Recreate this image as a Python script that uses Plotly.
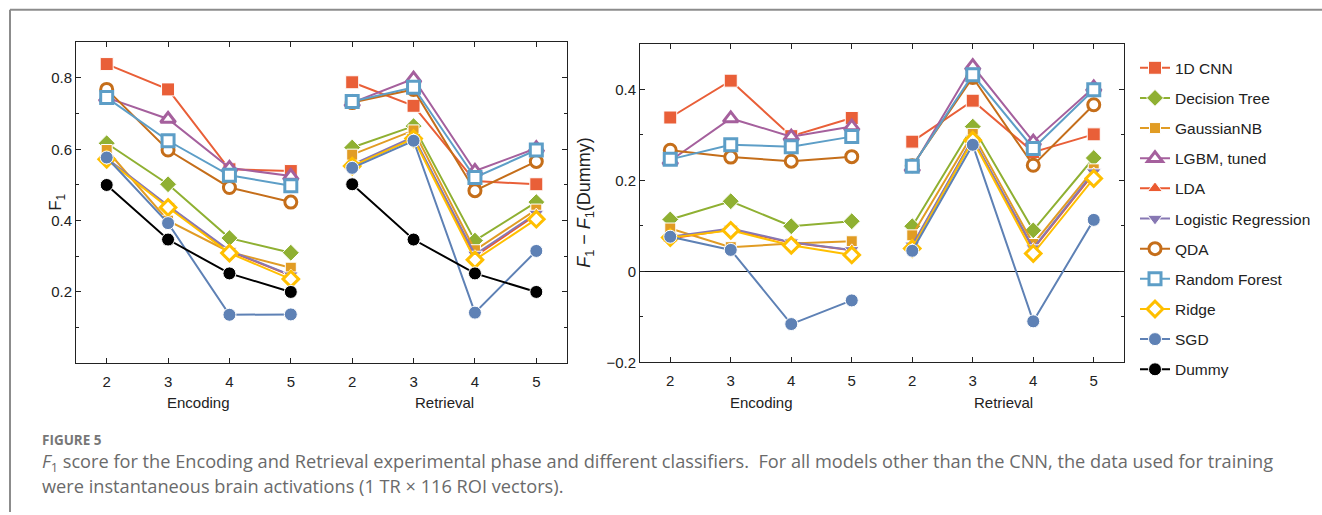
import plotly.graph_objects as go

# ---------------- data ----------------
phases = ["Encoding", "Retrieval"]
n_classes = [2, 3, 4, 5]
tick_labels = [str(n) for p in phases for n in n_classes]

models = ["1D CNN", "Decision Tree", "GaussianNB", "LGBM, tuned", "LDA",
          "Logistic Regression", "QDA", "Random Forest", "Ridge", "SGD", "Dummy"]

# F1 score (left panel): Encoding 2..5, Retrieval 2..5
f1_cnn = [0.839, 0.768, 0.544, 0.539, 0.788, 0.722, 0.511, 0.502]
f1_tree = [0.617, 0.502, 0.351, 0.310, 0.605, 0.665, 0.344, 0.452]
f1_gnb = [0.598, 0.400, 0.312, 0.268, 0.585, 0.653, 0.317, 0.431]
f1_lgbm = [0.745, 0.685, 0.548, 0.525, 0.731, 0.798, 0.539, 0.603]
f1_lda = [0.572, 0.440, 0.314, 0.246, 0.553, 0.632, 0.300, 0.417]
f1_logreg = [0.575, 0.442, 0.316, 0.247, 0.557, 0.635, 0.305, 0.420]
f1_qda = [0.768, 0.598, 0.493, 0.452, 0.731, 0.768, 0.484, 0.566]
f1_rf = [0.745, 0.624, 0.527, 0.498, 0.734, 0.774, 0.521, 0.598]
f1_ridge = [0.572, 0.437, 0.309, 0.236, 0.553, 0.630, 0.290, 0.404]
f1_sgd = [0.577, 0.393, 0.136, 0.137, 0.548, 0.624, 0.142, 0.315]
f1_dummy = [0.500, 0.347, 0.252, 0.200, 0.502, 0.347, 0.252, 0.200]

# F1 - F1(Dummy) (right panel)
d_cnn = [0.338, 0.419, 0.297, 0.337, 0.285, 0.375, 0.262, 0.301]
d_tree = [0.114, 0.154, 0.099, 0.110, 0.099, 0.318, 0.090, 0.249]
d_gnb = [0.094, 0.053, 0.061, 0.066, 0.079, 0.302, 0.060, 0.224]
d_lgbm = [0.243, 0.336, 0.296, 0.318, 0.228, 0.451, 0.285, 0.404]
d_lda = [0.072, 0.092, 0.063, 0.046, 0.055, 0.290, 0.049, 0.215]
d_logreg = [0.076, 0.094, 0.064, 0.047, 0.057, 0.292, 0.051, 0.218]
d_qda = [0.266, 0.251, 0.242, 0.252, 0.232, 0.426, 0.233, 0.366]
d_rf = [0.246, 0.278, 0.274, 0.296, 0.231, 0.432, 0.270, 0.399]
d_ridge = [0.074, 0.090, 0.057, 0.036, 0.050, 0.288, 0.039, 0.204]
d_sgd = [0.076, 0.047, -0.116, -0.064, 0.045, 0.278, -0.110, 0.113]

f1_values = [f1_cnn, f1_tree, f1_gnb, f1_lgbm, f1_lda, f1_logreg, f1_qda,
             f1_rf, f1_ridge, f1_sgd, f1_dummy]
diff_values = [d_cnn, d_tree, d_gnb, d_lgbm, d_lda, d_logreg, d_qda,
               d_rf, d_ridge, d_sgd, None]

# ---------------- styles ----------------
colors = ["#E95F38", "#8FB032", "#E19C24", "#A5609D", "#EB5A30", "#8778B3",
          "#C56E1A", "#5D9EC7", "#FFBF00", "#5E81B5", "#000000"]
symbols = ["square", "diamond", "square", "triangle-up", "triangle-up",
           "triangle-down", "circle", "square", "diamond", "circle", "circle"]
open_marker = [False, False, False, True, False, False, True, True, True, False, False]
sizes = [13, 13, 11, 13, 13, 13, 12, 12, 12, 13, 13]

FONT = "Liberation Sans, Arial, sans-serif"
CAPFONT = "Open Sans, sans-serif"

W, H = 1322, 515
def px(x):
    return x / W
def py(y):
    return 1 - y / H

positions = list(range(1, len(tick_labels) + 1))
n = len(n_classes)

fig = go.Figure()
for i, name in enumerate(models):
    c = colors[i]
    if open_marker[i]:
        mk = dict(symbol=symbols[i], size=sizes[i], color="white",
                  line=dict(color=c, width=3))
    else:
        mk = dict(symbol=symbols[i], size=sizes[i], color=c,
                  line=dict(color="white", width=1))
    panels = [("x", "y", f1_values[i])]
    if diff_values[i] is not None:
        panels.append(("x2", "y2", diff_values[i]))
    for pi, (xa, ya, vals) in enumerate(panels):
        for k in range(len(phases)):
            sl = slice(k * n, (k + 1) * n)
            fig.add_trace(go.Scatter(
                x=positions[sl], y=vals[sl], mode="lines+markers", name=name,
                line=dict(color=c, width=2), marker=mk, legendgroup=name,
                showlegend=(pi == 0 and k == 0), xaxis=xa, yaxis=ya))

axis_font = dict(family=FONT, size=15, color="#222")
common_x = dict(range=[0.5, 8.5], tickmode="array", tickvals=positions,
                ticktext=tick_labels, ticks="inside", ticklen=5, tickcolor="#222",
                showline=True, linecolor="#222", linewidth=1, mirror="ticks",
                showgrid=False, zeroline=False, tickfont=axis_font,
                ticklabelstandoff=5)
common_y = dict(ticks="inside", ticklen=5, tickcolor="#222", showline=True,
                linecolor="#222", linewidth=1, mirror="ticks", showgrid=False,
                tickfont=axis_font,
                minor=dict(dtick=0.1, tick0=0, ticks="inside", ticklen=3,
                           tickcolor="#222", showgrid=False))

fig.update_layout(
    width=W, height=H, margin=dict(l=0, r=0, t=0, b=0),
    paper_bgcolor="white", plot_bgcolor="white",
    font=dict(family=FONT, color="#222"),
    xaxis=dict(domain=[px(76), px(567)], anchor="y", **common_x),
    yaxis=dict(domain=[py(369), py(43)], anchor="x", range=[0, 0.9],
               tickvals=[0.2, 0.4, 0.6, 0.8], ticktext=["0.2", "0.4", "0.6", "0.8"],
               zeroline=False, **common_y),
    xaxis2=dict(domain=[px(640), px(1124)], anchor="y2", **common_x),
    yaxis2=dict(domain=[py(368), py(44.5)], anchor="x2", range=[-0.2, 0.5],
                tickvals=[-0.2, 0, 0.2, 0.4], ticktext=["\u22120.2", "0", "0.2", "0.4"],
                zeroline=True, zerolinecolor="#111", zerolinewidth=1, **common_y),
    legend=dict(x=px(1135), y=py(52), xanchor="left", yanchor="top",
                font=dict(family=FONT, size=15.5, color="#222"),
                tracegroupgap=7, bgcolor="rgba(0,0,0,0)", itemwidth=30),
    showlegend=True,
)

ann = []
# group labels
for xa in ["x", "x2"]:
    for k, ph in enumerate(phases):
        ann.append(dict(text=ph, x=(n + 1) / 2 + n * k, xref=xa, y=py(409), yref="paper",
                        showarrow=False, xanchor="center", yanchor="middle",
                        font=dict(family=FONT, size=15, color="#222")))
# y titles
ann.append(dict(text="F<sub>1</sub>", x=px(57), y=py(206), xref="paper", yref="paper",
                textangle=-90, showarrow=False, xanchor="center", yanchor="middle",
                font=dict(family=FONT, size=17, color="#222")))
ann.append(dict(text="<i>F</i><sub>1</sub> \u2212 <i>F</i><sub>1</sub>(Dummy)", x=px(586), y=py(206),
                xref="paper", yref="paper", textangle=-90, showarrow=False,
                xanchor="center", yanchor="middle",
                font=dict(family=FONT, size=18, color="#222")))
# caption
ann.append(dict(text="<b>FIGURE 5</b>", x=px(40), y=py(447), xref="paper", yref="paper",
                showarrow=False, xanchor="left", yanchor="middle",
                font=dict(family=CAPFONT, size=13.5, color="#777")))
ann.append(dict(text="<i>F</i><sub>1</sub> score for the Encoding and Retrieval experimental phase and different classifiers.&nbsp; For all models other than the CNN, the data used for training",
                x=px(40), y=py(470), xref="paper", yref="paper", showarrow=False,
                xanchor="left", yanchor="middle",
                font=dict(family=CAPFONT, size=18.2, color="#6a6a6a")))
ann.append(dict(text="were instantaneous brain activations (1 TR \u00d7 116 ROI vectors).",
                x=px(40), y=py(494), xref="paper", yref="paper", showarrow=False,
                xanchor="left", yanchor="middle",
                font=dict(family=CAPFONT, size=18.2, color="#6a6a6a")))
fig.update_layout(annotations=ann)

# outer frame (top and left edges)
fig.update_layout(shapes=[
    dict(type="line", xref="paper", yref="paper", x0=px(10), x1=1.01, y0=py(10), y1=py(10),
         line=dict(color="#8c8c8c", width=2)),
    dict(type="line", xref="paper", yref="paper", x0=px(10), x1=px(10), y0=py(10), y1=-0.01,
         line=dict(color="#8c8c8c", width=2)),
])

fig.write_html("out.html")
